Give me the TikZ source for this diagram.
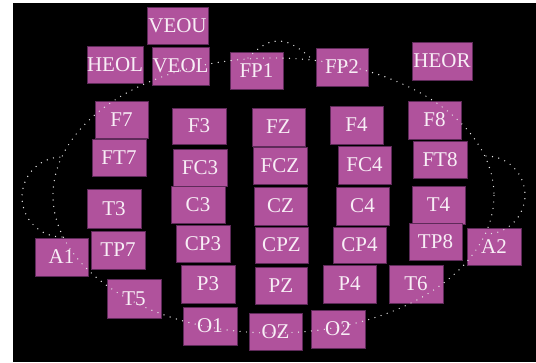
\documentclass[tikz,border=0pt]{standalone}
\usepackage{fontspec}
\setmainfont{Liberation Serif}
\definecolor{boxfill}{HTML}{B0529C}
\definecolor{boxline}{HTML}{5E2A59}
\definecolor{txt}{HTML}{F8EEF6}
\definecolor{dotc}{HTML}{E6E6E6}
\tikzset{
  ebox/.style={draw=boxline, line width=0.6pt, fill=boxfill, text=txt, inner sep=0pt,
    font=\fontsize{21}{21}\selectfont},
  dotline/.style={draw=dotc, line width=1.4pt, line cap=round, dash pattern=on 0pt off 6.5pt}
}
\newcommand\elec[5]{\node[ebox, minimum width={(#4-#2)*1pt}, minimum height={(#5-#3)*1pt}] (#1) at ({(#2+#4)/2},{(#3+#5)/2}) {#1};}
\begin{document}
\begin{tikzpicture}[x=1pt,y=-1pt]
\useasboundingbox (0,0) rectangle (536,362);
\fill[white] (0,0) rectangle (536,362);
\fill[black] (13,3) rectangle (536,362);
\elec{VEOU}{147}{7}{208}{44}
\elec{HEOL}{87}{46}{143}{83}
\elec{VEOL}{152}{47}{209}{85}
\elec{FP1}{230}{52}{283}{89}
\elec{FP2}{316}{48}{368}{86}
\elec{HEOR}{412}{42}{472}{80}
\elec{F7}{95}{101}{148}{138}
\elec{F3}{172}{108}{226}{144}
\elec{FZ}{252}{108}{305}{146}
\elec{F4}{330}{106}{383}{144}
\elec{F8}{408}{101}{461}{139}
\elec{FT7}{92}{139}{146}{176}
\elec{FC3}{173}{149}{227}{186}
\elec{FCZ}{253}{147}{307}{184}
\elec{FC4}{338}{146}{391}{184}
\elec{FT8}{413}{141}{467}{178}
\elec{T3}{87}{189}{141}{228}
\elec{C3}{171}{186}{225}{223}
\elec{CZ}{254}{187}{307}{225}
\elec{C4}{336}{187}{389}{225}
\elec{T4}{412}{186}{465}{224}
\elec{A1}{35}{238}{88}{276}
\elec{TP7}{91}{231}{145}{269}
\elec{CP3}{176}{225}{230}{262}
\elec{CPZ}{255}{227}{308}{263}
\elec{CP4}{333}{227}{386}{263}
\elec{TP8}{409}{223}{462}{260}
\elec{A2}{467}{228}{521}{265}
\elec{T5}{107}{279}{161}{318}
\elec{P3}{181}{265}{235}{303}
\elec{PZ}{255}{267}{307}{304}
\elec{P4}{323}{265}{376}{303}
\elec{T6}{389}{265}{443}{303}
\elec{O1}{183}{307}{237}{345}
\elec{OZ}{249}{313}{302}{350}
\elec{O2}{311}{310}{365}{348}
% head outline
\draw[dotline] (273.5,195.5) ellipse [x radius=220.5, y radius=137.5];
% nose
\draw[dotline] (248,58) .. controls (262,44) and (270,41) .. (279,41) .. controls (290,41) and (302,50) .. (313,60);
% ears
\draw[dotline] (62,197) ++(90:40) arc[start angle=90, end angle=270, radius=40];
\draw[dotline] (486,195) ++(-90:39) arc[start angle=-90, end angle=90, radius=39];
\end{tikzpicture}
\end{document}
